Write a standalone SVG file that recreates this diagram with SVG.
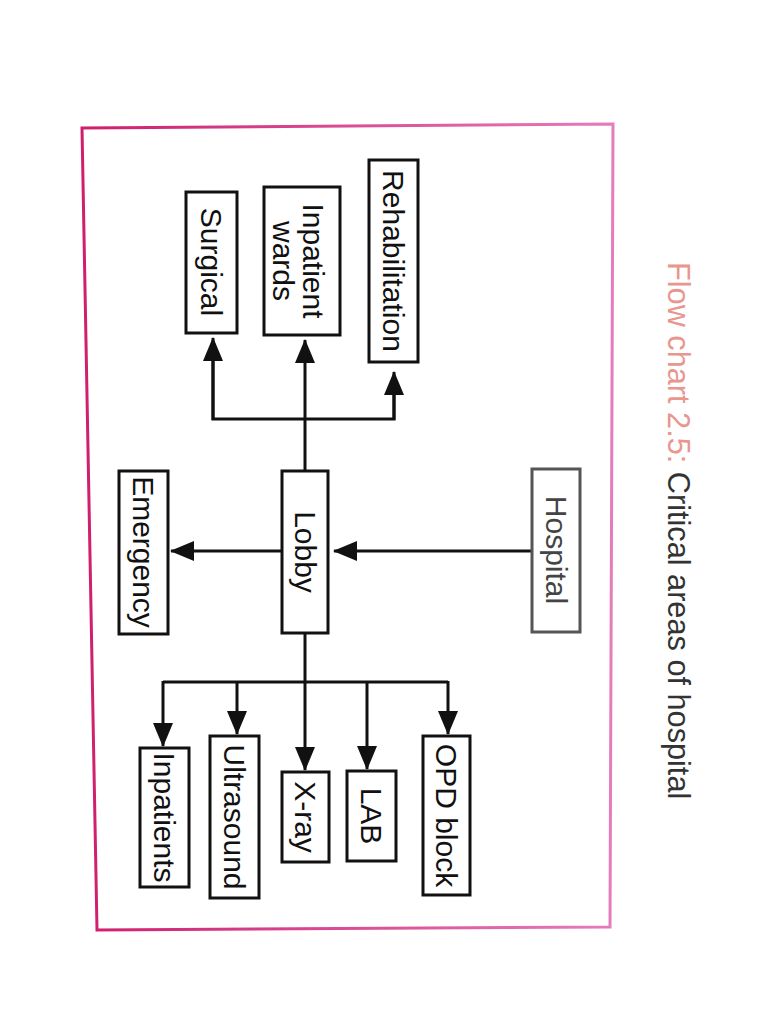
<svg xmlns="http://www.w3.org/2000/svg" width="768" height="1024" viewBox="0 0 768 1024">
<defs>
<linearGradient id="fg" x1="0" y1="0" x2="1" y2="0">
<stop offset="0" stop-color="#cf1e6c"/>
<stop offset="1" stop-color="#e57cbc"/>
</linearGradient>
<marker id="ah" markerUnits="userSpaceOnUse" markerWidth="24" markerHeight="20" refX="23" refY="10" orient="auto">
<path d="M0,0 L24,10 L0,20 z" fill="#111"/>
</marker>
<style>
.box{fill:#fff;stroke:#111;stroke-width:3}
.lbl{font-family:"Liberation Sans",Arial,sans-serif;font-size:30px;fill:#111;text-anchor:middle}
.con{fill:none;stroke:#111;stroke-width:3}
</style>
</defs>
<rect width="768" height="1024" fill="#fff"/>
<polygon points="82,128 613,124 610,927 97,930" fill="none" stroke="url(#fg)" stroke-width="3"/>
<g id="title">
<text transform="translate(668,262) rotate(90)" font-family="Liberation Sans, Arial, sans-serif" font-size="30.7"><tspan fill="#e8968e">Flow chart 2.5:</tspan><tspan fill="#333"> Critical areas of hospital</tspan></text>
</g>
<g id="connectors">
<line class="con" x1="532" y1="551" x2="334" y2="551" marker-end="url(#ah)"/>
<line class="con" x1="282" y1="551" x2="171" y2="551" marker-end="url(#ah)"/>
<line class="con" x1="305" y1="471" x2="305" y2="340" marker-end="url(#ah)"/>
<polyline class="con" points="213,360 213,419 394,419 394,390"/>
<line class="con" x1="213" y1="420" x2="213" y2="338" marker-end="url(#ah)"/>
<line class="con" x1="394" y1="420" x2="394" y2="372" marker-end="url(#ah)"/>
<line class="con" x1="305" y1="633" x2="305" y2="770" marker-end="url(#ah)"/>
<line class="con" x1="163" y1="682" x2="448" y2="682"/>
<line class="con" x1="163" y1="681" x2="163" y2="746" marker-end="url(#ah)"/>
<line class="con" x1="237" y1="681" x2="237" y2="734" marker-end="url(#ah)"/>
<line class="con" x1="367" y1="681" x2="367" y2="769" marker-end="url(#ah)"/>
<line class="con" x1="448" y1="681" x2="448" y2="734" marker-end="url(#ah)"/>
</g>
<g id="hospital">
<rect class="box" x="532" y="469" width="48" height="163" style="stroke:#555"/>
<text class="lbl" transform="translate(556,550) rotate(90)" dy="0.35em" style="fill:#444">Hospital</text>
</g>
<g id="lobby">
<rect class="box" x="282" y="471" width="46" height="162"/>
<text class="lbl" transform="translate(305,552) rotate(90)" dy="0.35em">Lobby</text>
</g>
<g id="emergency">
<rect class="box" x="119" y="471" width="49" height="163"/>
<text class="lbl" transform="translate(143.5,552) rotate(90)" dy="0.35em">Emergency</text>
</g>
<g id="surgical">
<rect class="box" x="186" y="192" width="51" height="141"/>
<text class="lbl" transform="translate(211.5,262) rotate(90)" dy="0.35em">Surgical</text>
</g>
<g id="inpatient-wards">
<rect class="box" x="264" y="187" width="76" height="148"/>
<text class="lbl" transform="translate(313,261) rotate(90)" dy="0.35em">Inpatient</text>
<text class="lbl" transform="translate(283,261) rotate(90)" dy="0.35em">wards</text>
</g>
<g id="rehabilitation">
<rect class="box" x="369" y="160" width="49" height="202"/>
<text class="lbl" transform="translate(393.5,261) rotate(90)" dy="0.35em">Rehabilitation</text>
</g>
<g id="inpatients">
<rect class="box" x="140" y="748" width="49" height="139"/>
<text class="lbl" transform="translate(164.5,817.5) rotate(90)" dy="0.35em">Inpatients</text>
</g>
<g id="ultrasound">
<rect class="box" x="210" y="736" width="49" height="162"/>
<text class="lbl" transform="translate(234.5,817) rotate(90)" dy="0.35em">Ultrasound</text>
</g>
<g id="xray">
<rect class="box" x="282" y="772" width="47" height="90"/>
<text class="lbl" transform="translate(305.5,817) rotate(90)" dy="0.35em">X-ray</text>
</g>
<g id="lab">
<rect class="box" x="347" y="771" width="49" height="90"/>
<text class="lbl" transform="translate(371.5,816) rotate(90)" dy="0.35em">LAB</text>
</g>
<g id="opd-block">
<rect class="box" x="423" y="736" width="47" height="159"/>
<text class="lbl" transform="translate(446.5,815.5) rotate(90)" dy="0.35em">OPD block</text>
</g>
</svg>
